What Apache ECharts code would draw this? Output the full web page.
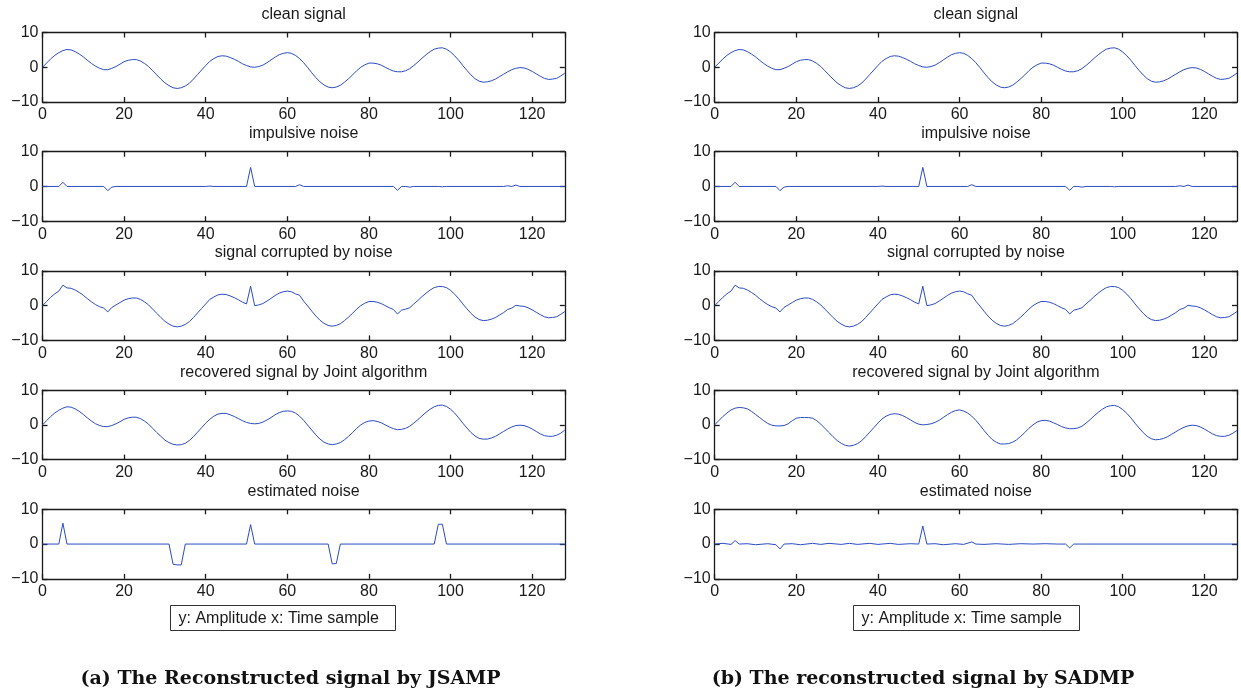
<!DOCTYPE html>
<html>
<head>
<meta charset="utf-8">
<title>Reconstructed signal</title>
<script src="https://cdn.jsdelivr.net/npm/echarts@6/dist/echarts.min.js"></script>
<style>
  html, body { margin: 0; padding: 0; background: #fff; }
  #chart { width: 1241px; height: 692px; }
</style>
</head>
<body>
<div id="chart"></div>
<script>
// time samples 0..128, one value per sample
const cleanSignal = [
  0, 1.2, 2.4, 3.4, 4.2, 4.8, 5.1, 5.0, 4.5, 3.8,
  3.0, 2.0, 1.1, 0.3, -0.3, -0.7, -0.7, -0.3, 0.2, 0.9,
  1.6, 2.0, 2.2, 2.2, 1.8, 1.1, 0.2, -1.0, -2.2, -3.4,
  -4.5, -5.3, -5.9, -6.1, -5.9, -5.4, -4.6, -3.4, -2.1, -0.8,
  0.5, 1.7, 2.5, 3.1, 3.3, 3.2, 2.8, 2.3, 1.7, 1.0,
  0.5, 0.1, 0.0, 0.2, 0.6, 1.3, 2.1, 2.9, 3.6, 4.0,
  4.2, 4.0, 3.4, 2.5, 1.3, -0.1, -1.6, -3.0, -4.2, -5.1,
  -5.7, -5.9, -5.7, -5.2, -4.3, -3.3, -2.2, -1.0, 0.0, 0.7,
  1.2, 1.2, 1.0, 0.6, 0.0, -0.6, -1.1, -1.3, -1.3, -1.0,
  -0.4, 0.5, 1.5, 2.6, 3.6, 4.5, 5.2, 5.5, 5.6, 5.2,
  4.4, 3.3, 2.0, 0.5, -0.9, -2.2, -3.3, -4.0, -4.3, -4.2,
  -3.9, -3.4, -2.7, -2.0, -1.3, -0.7, -0.3, -0.1, -0.2, -0.6,
  -1.2, -1.9, -2.6, -3.2, -3.5, -3.4, -3.2, -2.5, -1.7
];
const corruptedSignal = [
  0, 1.2, 2.4, 3.4, 4.2, 5.9, 5.1, 5.0, 4.5, 3.8,
  3.0, 2.0, 1.1, 0.3, -0.3, -0.7, -1.8, -0.5, 0.2, 0.9,
  1.6, 2.0, 2.2, 2.2, 1.8, 1.1, 0.2, -1.0, -2.2, -3.4,
  -4.5, -5.3, -5.9, -6.1, -5.9, -5.4, -4.6, -3.4, -2.1, -0.8,
  0.5, 1.8, 2.5, 3.1, 3.3, 3.2, 2.8, 2.3, 1.7, 1.0,
  0.5, 5.6, 0.0, 0.2, 0.6, 1.3, 2.1, 2.9, 3.6, 4.0,
  4.2, 4.0, 3.4, 3.0, 1.3, -0.1, -1.6, -3.0, -4.2, -5.1,
  -5.7, -5.9, -5.7, -5.2, -4.3, -3.3, -2.2, -1.0, 0.0, 0.7,
  1.2, 1.2, 1.0, 0.6, 0.0, -0.6, -1.1, -2.4, -1.3, -1.0,
  -0.6, 0.5, 1.5, 2.6, 3.6, 4.5, 5.2, 5.5, 5.5, 5.2,
  4.4, 3.3, 2.0, 0.5, -0.9, -2.2, -3.3, -4.0, -4.3, -4.2,
  -3.9, -3.4, -2.7, -2.0, -1.1, -0.7, 0.1, -0.1, -0.2, -0.6,
  -1.2, -1.9, -2.6, -3.2, -3.5, -3.4, -3.2, -2.5, -1.7
];
const recoveredJSAMP = [
  0, 1.2, 2.4, 3.4, 4.2, 4.8, 5.2, 5.1, 4.6, 3.9,
  3.0, 2.0, 1.1, 0.3, -0.2, -0.5, -0.5, -0.2, 0.3, 0.9,
  1.6, 2.0, 2.2, 2.2, 1.8, 1.1, 0.2, -1.0, -2.2, -3.3,
  -4.4, -5.1, -5.6, -5.8, -5.7, -5.3, -4.5, -3.4, -2.1, -0.8,
  0.5, 1.6, 2.5, 3.1, 3.3, 3.3, 2.9, 2.4, 1.8, 1.2,
  0.7, 0.4, 0.3, 0.4, 0.8, 1.4, 2.1, 2.9, 3.5, 3.9,
  4.0, 3.9, 3.4, 2.5, 1.3, -0.1, -1.5, -2.9, -4.1, -5.0,
  -5.5, -5.7, -5.5, -5.1, -4.3, -3.3, -2.2, -1.0, 0.0, 0.7,
  1.1, 1.2, 1.0, 0.6, 0.0, -0.6, -1.1, -1.4, -1.3, -1.0,
  -0.4, 0.5, 1.5, 2.6, 3.6, 4.5, 5.2, 5.6, 5.7, 5.3,
  4.5, 3.4, 2.0, 0.5, -0.9, -2.2, -3.2, -3.9, -4.1, -4.1,
  -3.8, -3.3, -2.6, -1.9, -1.2, -0.6, -0.2, -0.1, -0.2, -0.6,
  -1.2, -1.9, -2.6, -3.1, -3.3, -3.3, -3.0, -2.4, -1.5
];
const recoveredSADMP = [
  0, 1.2, 2.4, 3.4, 4.3, 4.8, 5.0, 4.9, 4.6, 3.9,
  3.0, 2.1, 1.2, 0.4, -0.1, -0.3, -0.3, -0.2, 0.3, 1.2,
  1.9, 2.1, 2.1, 2.1, 1.9, 1.2, 0.2, -1.0, -2.2, -3.4,
  -4.5, -5.3, -5.9, -6.1, -5.9, -5.4, -4.6, -3.4, -2.1, -0.8,
  0.5, 1.7, 2.5, 3.0, 3.2, 3.1, 2.7, 2.1, 1.4, 0.7,
  0.2, 0.0, 0.1, 0.3, 0.7, 1.3, 2.1, 2.9, 3.6, 4.1,
  4.3, 4.0, 3.4, 2.5, 1.3, -0.1, -1.6, -3.0, -4.2, -5.0,
  -5.5, -5.5, -5.4, -5.0, -4.3, -3.3, -2.2, -1.0, 0.0, 0.8,
  1.2, 1.3, 1.1, 0.6, 0.1, -0.5, -0.9, -1.1, -1.1, -0.9,
  -0.4, 0.5, 1.5, 2.6, 3.6, 4.5, 5.2, 5.5, 5.6, 5.2,
  4.4, 3.3, 2.0, 0.5, -0.9, -2.2, -3.3, -4.0, -4.3, -4.2,
  -3.9, -3.4, -2.7, -2.0, -1.3, -0.7, -0.3, -0.1, -0.2, -0.6,
  -1.2, -1.9, -2.6, -3.1, -3.3, -3.3, -3.0, -2.4, -1.6
];
// sparse noise traces as [sample, amplitude] knots
const impulsiveNoise = [
  [0, 0], [4, 0], [5, 1.2], [6, 0], [15, 0], [16, -1.2], [17, -0.2], [18, 0],
  [40, 0], [41, 0.1], [42, 0], [50, 0], [51, 5.5], [52, 0], [62, 0], [63, 0.5], [64, 0],
  [86, 0], [87, -1.1], [88, 0], [89, 0], [90, -0.2], [91, 0], [97, 0], [98, -0.1], [99, 0],
  [113, 0], [114, 0.2], [115, 0], [116, 0.4], [117, 0], [128, 0]
];
const estimatedNoiseJSAMP = [
  [0, 0], [4, 0], [5, 6.0], [6, 0], [31, 0], [32, -5.8], [33, -6.0], [34, -6.0], [35, 0],
  [50, 0], [51, 5.6], [52, 0], [70, 0], [71, -5.7], [72, -5.6], [73, 0],
  [96, 0], [97, 5.7], [98, 5.7], [99, 0], [128, 0]
];
const estimatedNoiseSADMP = [
  [0, 0], [2, 0.2], [4, -0.1], [5, 1.0], [6, 0], [8, 0.1], [10, -0.2], [13, 0.1], [15, -0.2],
  [16, -1.4], [17, 0], [19, 0.1], [21, -0.2], [24, 0.2], [26, -0.1], [28, 0.2], [31, -0.1],
  [33, 0.2], [35, -0.1], [38, 0.2], [40, -0.1], [43, 0.2], [45, -0.1], [48, 0.1], [50, 0],
  [51, 5.2], [52, 0], [54, 0.1], [56, -0.2], [59, 0.1], [61, -0.1], [63, 0.6], [64, 0],
  [66, -0.1], [69, 0.1], [72, -0.1], [75, 0.1], [78, 0], [81, 0.1], [84, 0], [86, 0],
  [87, -1.1], [88, 0], [128, 0]
];

const panelTitles = ['clean signal', 'impulsive noise', 'signal corrupted by noise',
  'recovered signal by Joint algorithm', 'estimated noise'];
const xMin = 0, xMax = 128, xStep = 20;
const yMin = -10, yMax = 10, yStep = 10;
const legendText = 'y: Amplitude x: Time sample';
const captions = ['(a) The Reconstructed signal by JSAMP', '(b) The reconstructed signal by SADMP'];

function toPairs(arr) {
  return arr.map((v, i) => [i, v]);
}

const columns = [
  [toPairs(cleanSignal), impulsiveNoise, toPairs(corruptedSignal), toPairs(recoveredJSAMP), estimatedNoiseJSAMP],
  [toPairs(cleanSignal), impulsiveNoise, toPairs(corruptedSignal), toPairs(recoveredSADMP), estimatedNoiseSADMP]
];

const FONT = '"Liberation Sans", Arial, Helvetica, sans-serif';
const TEXT = '#1a1a1a';
const LINE = '#2c4cc2';
const box = { color: '#1a1a1a', width: 1.3 };

const colLeft = [42.5, 714.7];
const plotW = 522.3;
const rowTop = [32.5, 151.7, 270.9, 390.1, 509.3];
const plotH = 69.5;

let grid = [], xAxis = [], yAxis = [], series = [];

columns.forEach((col, c) => {
  col.forEach((data, r) => {
    const g = grid.length;
    grid.push({
      left: colLeft[c], top: rowTop[r], width: plotW, height: plotH,
      containLabel: false, outerBoundsMode: 'none', show: false
    });
    // bottom axis with labels, top axis carries the panel title
    xAxis.push({
      gridIndex: g, type: 'value', min: xMin, max: xMax, interval: xStep, position: 'bottom',
      axisLine: { show: true, onZero: false, lineStyle: box },
      axisTick: { show: true, inside: true, length: 5, lineStyle: box },
      axisLabel: { show: true, margin: 5, fontSize: 16, fontFamily: FONT, color: TEXT, showMaxLabel: false },
      splitLine: { show: false }
    });
    xAxis.push({
      gridIndex: g, type: 'value', min: xMin, max: xMax, interval: xStep, position: 'top',
      name: panelTitles[r], nameLocation: 'middle', nameGap: 10,
      nameTextStyle: { fontSize: 16, fontFamily: FONT, color: TEXT },
      axisLine: { show: true, onZero: false, lineStyle: box },
      axisTick: { show: true, inside: true, length: 5, lineStyle: box },
      axisLabel: { show: false },
      splitLine: { show: false }
    });
    yAxis.push({
      gridIndex: g, type: 'value', min: yMin, max: yMax, interval: yStep, position: 'left',
      axisLine: { show: true, onZero: false, lineStyle: box },
      axisTick: { show: true, inside: true, length: 5, lineStyle: box },
      axisLabel: {
        show: true, margin: 4, fontSize: 16, fontFamily: FONT, color: TEXT,
        formatter: v => (v < 0 ? '\u2212' + Math.abs(v) : String(v))
      },
      splitLine: { show: false }
    });
    yAxis.push({
      gridIndex: g, type: 'value', min: yMin, max: yMax, interval: yStep, position: 'right',
      axisLine: { show: true, onZero: false, lineStyle: box },
      axisTick: { show: true, inside: true, length: 5, lineStyle: box },
      axisLabel: { show: false },
      splitLine: { show: false }
    });
    series.push({
      type: 'line', xAxisIndex: 2 * g, yAxisIndex: 2 * g, data: data,
      showSymbol: false, symbol: 'none', silent: true, clip: true,
      lineStyle: { width: 1, color: LINE }, itemStyle: { color: LINE }
    });
  });
});

// legend-like note boxes and the sub-figure captions
const noteLeft = [170.5, 853.5];
const noteW = [225, 226];
const capCenter = [290.5, 923];
let graphic = [];
[0, 1].forEach(c => {
  graphic.push({
    type: 'rect', shape: { x: noteLeft[c], y: 605.5, width: noteW[c], height: 25 },
    style: { fill: '#fff', stroke: '#333', lineWidth: 1 }, silent: true
  });
  graphic.push({
    type: 'text', x: noteLeft[c] + 8, y: 618.5,
    style: { text: legendText, font: '16px ' + FONT, fill: TEXT, align: 'left', verticalAlign: 'middle' },
    silent: true
  });
  graphic.push({
    type: 'text', x: capCenter[c], y: 679,
    style: { text: captions[c], font: 'bold 19px "DejaVu Serif", serif', fill: '#111', align: 'center', verticalAlign: 'middle' },
    silent: true
  });
});

const myChart = echarts.init(document.getElementById('chart'), null, { renderer: 'canvas' });
myChart.setOption({
  backgroundColor: '#fff',
  animation: false,
  grid: grid,
  xAxis: xAxis,
  yAxis: yAxis,
  series: series,
  graphic: graphic
});
</script>
</body>
</html>
